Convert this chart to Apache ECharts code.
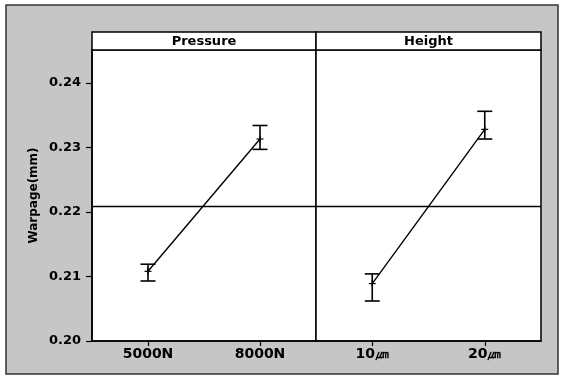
<!DOCTYPE html>
<html>
<head>
<meta charset="utf-8">
<script src="https://cdn.jsdelivr.net/npm/echarts@6/dist/echarts.min.js"></script>
<style>
  html, body { margin: 0; padding: 0; background: #ffffff; }
  #chart { width: 564px; height: 379px; }
</style>
</head>
<body>
<div id="chart"></div>
<script>
// Main effects of each factor on warpage, with interval bars
const panelTitles = ['Pressure', 'Height'];
const pressureCats = ['5000N', '8000N'];
const heightCats = ['10㎛', '20㎛'];
const pressureMean = [0.2108, 0.2313];
const pressureLow = [0.2093, 0.2297];
const pressureHigh = [0.2119, 0.2334];
const heightMean = [0.2089, 0.2328];
const heightLow = [0.2062, 0.2313];
const heightHigh = [0.2104, 0.2356];
const overallMean = 0.2209;
const yMin = 0.20, yMax = 0.2451, yStep = 0.01;
const yName = 'Warpage(mm)';

const FONT = 'DejaVu Sans';
const chart = echarts.init(document.getElementById('chart'), null, { renderer: 'canvas' });

const panelLeft = 92, panelMid = 316, panelRight = 541;
const headTop = 32, plotTop = 50, plotBottom = 341;
const W = 564, H = 379;

function errorSeries(axisIdx, mean, low, high) {
  return {
    type: 'custom',
    xAxisIndex: axisIdx,
    yAxisIndex: axisIdx,
    z: 5,
    data: mean.map((m, i) => [i, m, low[i], high[i]]),
    renderItem: function (params, api) {
      const i = api.value(0);
      const pm = api.coord([i, api.value(1)]);
      const pl = api.coord([i, api.value(2)]);
      const ph = api.coord([i, api.value(3)]);
      const cap = 7.5, mk = 3.5;
      const st = { stroke: '#000', lineWidth: 1.6 };
      return {
        type: 'group',
        children: [
          { type: 'line', shape: { x1: pl[0], y1: pl[1], x2: ph[0], y2: ph[1] }, style: st },
          { type: 'line', shape: { x1: pl[0] - cap, y1: pl[1], x2: pl[0] + cap, y2: pl[1] }, style: st },
          { type: 'line', shape: { x1: ph[0] - cap, y1: ph[1], x2: ph[0] + cap, y2: ph[1] }, style: st },
          { type: 'line', shape: { x1: pm[0] - mk, y1: pm[1], x2: pm[0] + mk, y2: pm[1] }, style: { stroke: '#000', lineWidth: 1.2 } },
          { type: 'line', shape: { x1: pm[0], y1: pm[1] - mk, x2: pm[0], y2: pm[1] + mk }, style: { stroke: '#000', lineWidth: 1.2 } }
        ]
      };
    }
  };
}

function lineSeries(axisIdx, mean) {
  return {
    type: 'line',
    xAxisIndex: axisIdx,
    yAxisIndex: axisIdx,
    data: mean,
    symbol: 'none',
    lineStyle: { color: '#000', width: 1.4 },
    z: 4,
    markLine: {
      silent: true,
      symbol: 'none',
      precision: 4,
      label: { show: false },
      lineStyle: { color: '#000', width: 1.4, type: 'solid' },
      data: [{ yAxis: overallMean }]
    }
  };
}

function xAxis(idx, cats) {
  return {
    type: 'category',
    gridIndex: idx,
    data: cats,
    boundaryGap: true,
    axisLine: { show: true, lineStyle: { color: '#000', width: 1.5 } },
    axisTick: { show: true, alignWithLabel: true, length: 5, lineStyle: { color: '#000', width: 1.2 } },
    axisLabel: { color: '#000', fontFamily: FONT, fontWeight: 'bold', fontSize: 14, margin: 6 },
    splitLine: { show: false }
  };
}

function yAxis(idx, showLabels) {
  return {
    type: 'value',
    gridIndex: idx,
    min: yMin,
    max: yMax,
    interval: yStep,
    name: showLabels ? yName : '',
    nameLocation: 'middle',
    nameGap: 52,
    nameTextStyle: { color: '#000', fontFamily: FONT, fontWeight: 'bold', fontSize: 12 },
    axisLine: { show: showLabels, lineStyle: { color: '#000', width: 1.5 } },
    axisTick: { show: showLabels, length: 6, lineStyle: { color: '#000', width: 1.2 } },
    axisLabel: {
      show: showLabels, color: '#000', fontFamily: FONT, fontWeight: 'bold', fontSize: 13, margin: 11,
      showMaxLabel: false,
      formatter: v => v.toFixed(2)
    },
    splitLine: { show: false }
  };
}

const option = {
  backgroundColor: '#ffffff',
  animation: false,
  graphic: [
    {
      type: 'rect', z: -10, silent: true,
      shape: { x: 6, y: 5, width: 552, height: 369 },
      style: { fill: '#c6c6c6', stroke: '#333', lineWidth: 1.5 }
    },
    {
      type: 'rect', z: 10, silent: true,
      shape: { x: panelLeft, y: headTop, width: panelMid - panelLeft, height: plotTop - headTop },
      style: { fill: '#fff', stroke: '#000', lineWidth: 1.5 }
    },
    {
      type: 'rect', z: 10, silent: true,
      shape: { x: panelMid, y: headTop, width: panelRight - panelMid, height: plotTop - headTop },
      style: { fill: '#fff', stroke: '#000', lineWidth: 1.5 }
    },
    {
      type: 'text', z: 11, silent: true,
      x: (panelLeft + panelMid) / 2, y: (headTop + plotTop) / 2 + 1,
      style: { text: panelTitles[0], fill: '#000', font: 'bold 13px "' + FONT + '"', align: 'center', verticalAlign: 'middle' }
    },
    {
      type: 'text', z: 11, silent: true,
      x: (panelMid + panelRight) / 2, y: (headTop + plotTop) / 2 + 1,
      style: { text: panelTitles[1], fill: '#000', font: 'bold 13px "' + FONT + '"', align: 'center', verticalAlign: 'middle' }
    }
  ],
  grid: [
    { left: panelLeft, right: W - panelMid, top: plotTop, bottom: H - plotBottom, show: true, backgroundColor: '#fff', borderColor: '#000', borderWidth: 1.5 },
    { left: panelMid, right: W - panelRight, top: plotTop, bottom: H - plotBottom, show: true, backgroundColor: '#fff', borderColor: '#000', borderWidth: 1.5 }
  ],
  xAxis: [xAxis(0, pressureCats), xAxis(1, heightCats)],
  yAxis: [yAxis(0, true), yAxis(1, false)],
  series: [
    lineSeries(0, pressureMean),
    errorSeries(0, pressureMean, pressureLow, pressureHigh),
    lineSeries(1, heightMean),
    errorSeries(1, heightMean, heightLow, heightHigh)
  ]
};

chart.setOption(option);
</script>
</body>
</html>
